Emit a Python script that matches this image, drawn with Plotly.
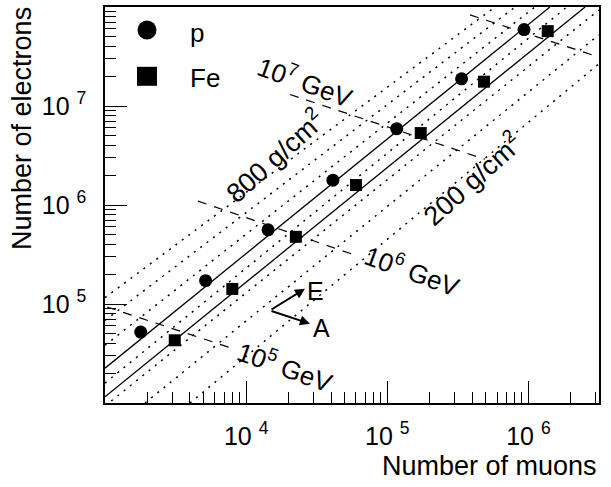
import plotly.graph_objects as go

# ---- data ----
p_muons = [1790, 5160, 14300, 41200, 116700, 336000, 931000]
p_electrons = [52100, 172000, 561000, 1.78e6, 5.9e6, 1.88e7, 5.92e7]
fe_muons = [3120, 7980, 22500, 60000, 172600, 484000, 1.37e6]
fe_electrons = [43000, 142000, 477000, 1.59e6, 5.33e6, 1.76e7, 5.7e7]

# solid lines (p and Fe)
p_line_x = [1000, 1.42e6]
p_line_y = [2.25e4, 1e8]
fe_line_x = [1000, 2.52e6]
fe_line_y = [1.156e4, 1e8]

# dotted lines (atmospheric depths 200..800 g/cm2)
dotted_x = [
    [1000, 5.79e5],
    [1000, 8.04e5],
    [1000, 1.11e6],
    [1000, 1.87e6],
    [1000, 3.16e6],
    [1920, 3.16e6],
    [4000, 3.16e6],
]
dotted_y = [
    [1.16e5, 1e8],
    [6.82e4, 1e8],
    [3.83e4, 1e8],
    [1.59e4, 1e8],
    [9.33e3, 9.33e7],
    [1e4, 5.24e7],
    [1e4, 2.67e7],
]

# dashed constant-energy lines
energy_x = [
    [1033, 7943],
    [4560, 60950],
    [20460, 4.92e5],
    [3.855e5, 3.11e6],
]
energy_y = [
    [93300, 35700],
    [1.096e6, 3.07e5],
    [1.306e7, 2.897e6],
    [8.32e7, 3.14e7],
]

x_tickvals = [1e4, 1e5, 1e6]
x_ticktext = ["10 <sup>4</sup>", "10 <sup>5</sup>", "10 <sup>6</sup>"]
y_tickvals = [1e5, 1e6, 1e7]
y_ticktext = ["10 <sup>5</sup>", "10 <sup>6</sup>", "10 <sup>7</sup>"]

FONT = "Liberation Sans, Arial, Helvetica, sans-serif"

fig = go.Figure()

for xs, ys in zip(dotted_x, dotted_y):
    fig.add_trace(go.Scatter(x=xs, y=ys, mode="lines",
                             line=dict(color="black", width=1.5, dash="2px,6px"),
                             showlegend=False, hoverinfo="skip"))

for xs, ys in zip(energy_x, energy_y):
    fig.add_trace(go.Scatter(x=xs, y=ys, mode="lines",
                             line=dict(color="black", width=1.2, dash="9px,8px"),
                             showlegend=False, hoverinfo="skip"))

fig.add_trace(go.Scatter(x=p_line_x, y=p_line_y, mode="lines",
                         line=dict(color="black", width=1.3), showlegend=False))
fig.add_trace(go.Scatter(x=fe_line_x, y=fe_line_y, mode="lines",
                         line=dict(color="black", width=1.3), showlegend=False))

fig.add_trace(go.Scatter(x=p_muons, y=p_electrons, mode="markers", name="p",
                         marker=dict(symbol="circle", size=13, color="black"),
                         showlegend=False))
fig.add_trace(go.Scatter(x=fe_muons, y=fe_electrons, mode="markers", name="Fe",
                         marker=dict(symbol="square", size=12, color="black"),
                         showlegend=False))

axis_common = dict(
    type="log", showgrid=False, zeroline=False,
    showline=True, linecolor="black", linewidth=1.5, mirror=True,
    ticks="inside", ticklen=22, tickwidth=1, tickcolor="black",
    tickfont=dict(family=FONT, size=25, color="black"),
    minor=dict(dtick="D1", ticks="inside", ticklen=11, tickwidth=1,
               tickcolor="black", showgrid=False),
)

fig.update_xaxes(range=[3, 6.5], tickmode="array", tickvals=x_tickvals,
                 ticktext=x_ticktext, ticklabelstandoff=10, **axis_common)
fig.update_yaxes(range=[4, 8], tickmode="array", tickvals=y_tickvals,
                 ticktext=y_ticktext, ticklabelstandoff=12, **axis_common)

annotations = [
    dict(text="Number of muons", xref="paper", yref="paper", x=1.0, y=-0.16,
         xanchor="right", yanchor="middle", showarrow=False,
         font=dict(family=FONT, size=27, color="black")),
    dict(text="Number of electrons", xref="paper", yref="paper", x=-0.168, y=0.692,
         xanchor="center", yanchor="middle", textangle=-90, showarrow=False,
         font=dict(family=FONT, size=27, color="black")),
    # legend texts
    dict(text="p", xref="paper", yref="paper", x=0.168, y=0.935,
         xanchor="left", yanchor="middle", showarrow=False,
         font=dict(family=FONT, size=26, color="black")),
    dict(text="Fe", xref="paper", yref="paper", x=0.168, y=0.82,
         xanchor="left", yanchor="middle", showarrow=False,
         font=dict(family=FONT, size=26, color="black")),
    # depth labels
    dict(text="800 g/cm<sup>2</sup>", x=4.20, y=6.51, textangle=-42,
         showarrow=False, font=dict(family=FONT, size=27, color="black")),
    dict(text="200 g/cm<sup>2</sup>", x=5.600, y=6.27, textangle=-42,
         showarrow=False, font=dict(family=FONT, size=27, color="black")),
    # energy labels
    dict(text="10<sup>7</sup> GeV", x=4.424, y=7.246, textangle=20,
         showarrow=False, font=dict(family=FONT, size=26, color="black")),
    dict(text="10<sup>6</sup> GeV", x=5.182, y=5.337, textangle=20,
         showarrow=False, font=dict(family=FONT, size=26, color="black")),
    dict(text="10<sup>5</sup> GeV", x=4.282, y=4.372, textangle=20,
         showarrow=False, font=dict(family=FONT, size=26, color="black")),
    # E / A arrows
    dict(x=4.417, y=5.153, ax=4.169, ay=4.935, xref="x", yref="y",
         axref="x", ayref="y", text="", showarrow=True, arrowhead=2,
         arrowsize=1, arrowwidth=2, arrowcolor="black"),
    dict(x=4.452, y=4.801, ax=4.169, ay=4.935, xref="x", yref="y",
         axref="x", ayref="y", text="", showarrow=True, arrowhead=2,
         arrowsize=1, arrowwidth=2, arrowcolor="black"),
    dict(text="E", x=4.488, y=5.136, showarrow=False,
         font=dict(family=FONT, size=25, color="black")),
    dict(text="A", x=4.537, y=4.754, showarrow=False,
         font=dict(family=FONT, size=25, color="black")),
]

shapes = [
    dict(type="circle", xref="paper", yref="paper", xsizemode="pixel",
         ysizemode="pixel", xanchor=0.085, yanchor=0.942,
         x0=-9.5, x1=9.5, y0=-9.5, y1=9.5,
         fillcolor="black", line=dict(color="black", width=0)),
    dict(type="rect", xref="paper", yref="paper", xsizemode="pixel",
         ysizemode="pixel", xanchor=0.085, yanchor=0.825,
         x0=-10, x1=10, y0=-9.5, y1=9.5,
         fillcolor="black", line=dict(color="black", width=0)),
]

fig.update_layout(
    width=611, height=487,
    margin=dict(l=105, r=12, t=5, b=84),
    paper_bgcolor="white", plot_bgcolor="white",
    showlegend=False, hovermode=False,
    annotations=annotations, shapes=shapes,
    font=dict(family=FONT, color="black"),
)

fig.write_html("out.html", config={"displayModeBar": False},
               post_script="document.body.style.margin='0px';")
